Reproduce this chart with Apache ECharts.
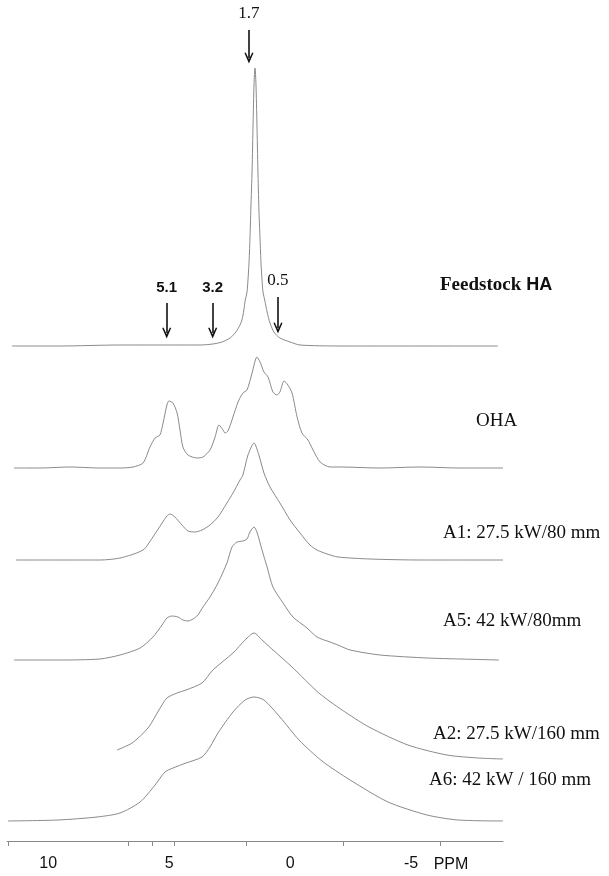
<!DOCTYPE html>
<html>
<head>
<meta charset="utf-8">
<script src="https://cdn.jsdelivr.net/npm/echarts@6/dist/echarts.min.js"></script>
<style>
  html, body { margin: 0; padding: 0; background: #fff; }
  #chart { width: 609px; height: 876px; }
</style>
</head>
<body>
<div id="chart"></div>
<script>
// 1H NMR spectra, [chemical shift (ppm), intensity above own baseline (a.u.)]
const feedstockHA = [
  [11.49,0],[9.51,0],[7.03,1],[5.38,1],[3.72,1],[3.19,2],[2.81,4],[2.48,8],[2.24,14],[2.07,21],
  [1.99,26],[1.91,36],[1.86,45],[1.78,54],[1.74,66],[1.70,82],[1.66,106],[1.62,138],[1.57,176],
  [1.53,222],[1.49,262],[1.45,278],[1.41,262],[1.37,222],[1.33,176],[1.29,138],[1.24,106],
  [1.20,82],[1.16,66],[1.12,54],[1.04,45],[0.95,34],[0.83,23],[0.67,14],[0.42,8],[0.00,4],
  [-0.41,1],[-2.06,0],[-4.54,0],[-6.61,0],[-8.59,0]
];
const oha = [
  [11.41,0],[10.34,0],[9.10,1],[7.86,0],[7.03,0],[6.49,1],[6.08,5],[5.79,21],[5.58,30],[5.38,33],
  [5.25,45],[5.09,63],[5.01,67],[4.84,65],[4.67,55],[4.55,38],[4.43,21],[4.22,13],[3.85,10],
  [3.60,11],[3.31,18],[3.10,31],[2.94,43],[2.77,38],[2.69,35],[2.57,37],[2.36,51],[2.15,66],
  [1.95,75],[1.78,78],[1.57,95],[1.37,111],[1.24,106],[1.08,96],[0.91,91],[0.71,76],[0.54,73],
  [0.42,76],[0.25,87],[0.09,83],[-0.08,75],[-0.29,51],[-0.49,35],[-0.74,28],[-0.95,18],
  [-1.24,6],[-1.65,1],[-2.06,1],[-3.72,0],[-5.37,1],[-7.02,0],[-8.80,0]
];
const a1 = [
  [11.33,0],[9.51,0],[7.86,0],[7.03,2],[6.08,10],[5.67,23],[5.29,37],[5.09,44],[4.96,46],
  [4.76,43],[4.47,35],[4.22,29],[3.93,28],[3.64,30],[3.31,35],[2.98,43],[2.61,57],[2.36,67],
  [2.07,80],[1.95,85],[1.74,105],[1.49,117],[1.29,105],[1.08,87],[0.83,73],[0.42,57],[0.00,40],
  [-0.41,27],[-0.82,15],[-1.11,10],[-1.53,6],[-1.98,3],[-3.30,1],[-5.37,0],[-8.80,0]
];
const a5 = [
  [11.41,0],[9.51,0],[7.86,1],[7.03,5],[6.20,12],[5.67,23],[5.29,35],[5.09,42],[4.88,44],
  [4.63,43],[4.43,40],[4.22,39],[4.01,41],[3.81,45],[3.60,53],[3.31,63],[2.98,77],[2.61,97],
  [2.40,113],[2.19,118],[1.95,119],[1.78,121],[1.66,128],[1.49,133],[1.37,128],[1.16,110],
  [0.95,93],[0.71,73],[0.29,57],[-0.12,43],[-0.70,32],[-1.11,23],[-1.65,18],[-1.98,15],
  [-2.48,10],[-3.72,5],[-5.66,2],[-7.02,1],[-8.63,0]
];
const a2 = [
  [7.15,10],[6.53,17],[5.87,32],[5.42,50],[5.09,62],[4.67,67],[4.30,70],[3.64,77],[3.19,90],
  [2.36,107],[1.86,120],[1.49,127],[1.16,120],[0.75,111],[-0.08,93],[-1.19,67],[-2.15,50],
  [-3.26,33],[-4.87,15],[-6.48,5],[-7.77,2],[-8.80,1]
];
const a6 = [
  [11.66,0],[9.59,1],[7.98,4],[7.03,8],[6.20,19],[5.58,36],[5.17,49],[4.84,53],[4.30,58],
  [3.64,64],[3.31,74],[2.98,88],[2.36,109],[1.86,121],[1.49,124],[1.08,121],[0.42,104],
  [-0.37,81],[-1.32,60],[-2.48,41],[-4.05,19],[-5.66,6],[-6.94,1],[-8.80,0]
];

const spectra = [feedstockHA, oha, a1, a5, a2, a6];
const sampleNames = ['Feedstock HA', 'OHA', 'A1: 27.5 kW/80 mm', 'A5: 42 kW/80mm', 'A2: 27.5 kW/160 mm', 'A6: 42 kW / 160 mm'];

// labelled resonances on the feedstock trace (ppm)
const peakShifts = [5.1, 3.2, 1.7, 0.5];

// ppm scale
const axisLabelValues = [10, 5, 0, -5];
const axisTickValues = [11.66, 6.7, 5.7, 4.8, 1.8, -2.2, -6.2];

// ---- layout ----
const AXIS_MIN = -8.8, AXIS_MAX = 11.7;
const GRID = { left: 7, width: 496, top: 0, bottom: 35 };
const PLOT_H = 876 - GRID.top - GRID.bottom;
const stackOffsets = [495, 373, 281, 181, 81, 20];   // vertical offset of each trace
const traceColor = '#7d7d7d';
const SERIF = '"Liberation Serif", "Times New Roman", serif';
const SANS = '"Liberation Sans", Arial, sans-serif';

// arrow geometry relative to the feedstock baseline, per resonance
const arrowSpan = { 5.1: [43, 13], 3.2: [43, 13], 1.7: [316, 288], 0.5: [49, 18] };
const arrowFont = { 5.1: 'b', 3.2: 'b', 1.7: 'r', 0.5: 'r' };

const chevron = 'path://M5,0 L10,10.5 L8.6,11 L5,4.2 L1.4,11 L0,10.5 Z';

const arrowLines = peakShifts.map(p => {
  const [top, bot] = arrowSpan[p];
  const base = stackOffsets[0];
  return [
    { coord: [p, base + top],
      label: { formatter: '{' + arrowFont[p] + '|' + p.toFixed(1) + '}' } },
    { coord: [p, base + bot] }
  ];
});

const series = spectra.map((pts, k) => ({
  type: 'line',
  name: sampleNames[k],
  data: pts.map(([ppm, v]) => [ppm, v + stackOffsets[k]]),
  showSymbol: false,
  symbol: 'none',
  smooth: 0.25,
  lineStyle: { color: traceColor, width: 0.9 },
  silent: true,
  z: 2
}));

series[0].markLine = {
  silent: true,
  symbol: ['none', chevron],
  symbolSize: [9, 11],
  lineStyle: { color: '#111', width: 1.6, type: 'solid' },
  label: {
    show: true,
    position: 'start',
    distance: 8,
    rich: {
      b: { fontFamily: SANS, fontWeight: 'bold', fontSize: 15, color: '#111' },
      r: { fontFamily: SERIF, fontSize: 17, color: '#111' }
    }
  },
  data: arrowLines
};

// sample captions: [left x, centre y]
const captionPos = [[440, 285], [476, 421], [443, 533], [443, 621], [433, 734], [429, 780]];
const graphics = sampleNames.map((name, k) => {
  const base = {
    type: 'text',
    x: captionPos[k][0],
    y: captionPos[k][1],
    silent: true,
    style: { fill: '#111', verticalAlign: 'middle', align: 'left' }
  };
  if (k === 0) {
    base.style.text = '{s|Feedstock}{h| HA}';
    base.style.rich = {
      s: { fontFamily: SERIF, fontWeight: 'bold', fontSize: 19, fill: '#111' },
      h: { fontFamily: SANS, fontWeight: 'bold', fontSize: 18, fill: '#111' }
    };
  } else {
    base.style.text = name;
    base.style.font = '19px ' + SERIF;
  }
  return base;
});
graphics.push({
  type: 'text', x: 451, y: 865, silent: true,
  style: { text: 'PPM', font: '16px ' + SANS, fill: '#111', align: 'center', verticalAlign: 'middle' }
});

const chart = echarts.init(document.getElementById('chart'), null, { renderer: 'canvas' });
chart.setOption({
  animation: false,
  backgroundColor: '#fff',
  grid: GRID,
  xAxis: {
    type: 'value',
    inverse: true,
    min: AXIS_MIN,
    max: AXIS_MAX,
    axisLine: { show: true, lineStyle: { color: '#8a8a8a', width: 1 } },
    axisTick: { show: true, customValues: axisTickValues, length: 5, lineStyle: { color: '#8a8a8a' } },
    axisLabel: {
      show: true,
      customValues: axisLabelValues,
      margin: 15,
      fontFamily: SANS,
      fontSize: 16,
      color: '#111',
      formatter: v => String(v)
    },
    splitLine: { show: false }
  },
  yAxis: {
    type: 'value',
    min: 0,
    max: PLOT_H,
    show: false,
    splitLine: { show: false }
  },
  series,
  graphic: graphics
});
</script>
</body>
</html>
